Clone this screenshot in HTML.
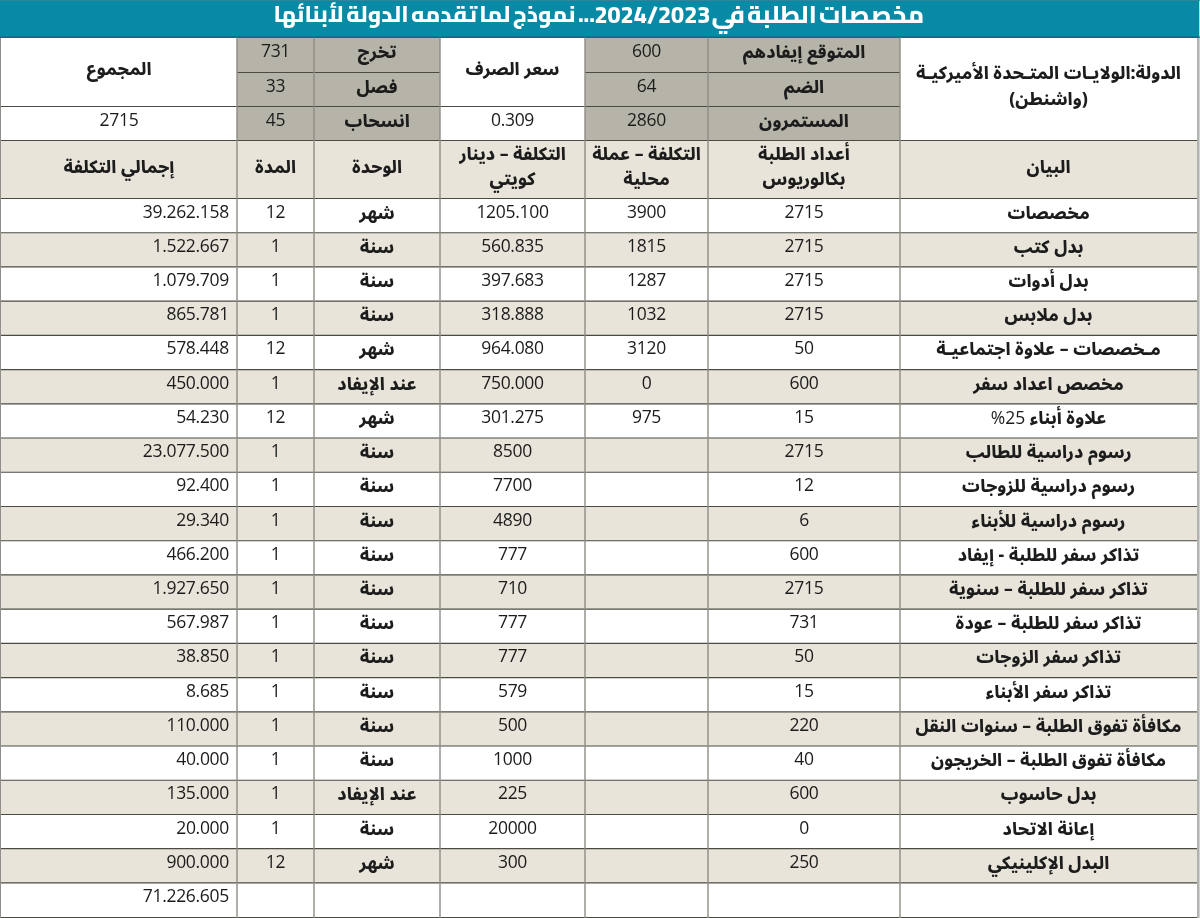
<!DOCTYPE html>
<html lang="ar"><head><meta charset="utf-8"><title>مخصصات الطلبة</title><style>
*{margin:0;padding:0;box-sizing:border-box}
html,body{width:1200px;height:918px;overflow:hidden;background:#fff}
body{position:relative}
#wrap{position:absolute;left:0;top:0;width:1200px;height:918px;will-change:transform}
.r,.g{position:absolute;left:0;top:0}
.r{left:auto;top:auto}
.c{position:absolute;display:flex;align-items:center;justify-content:center;text-align:center;color:#1c1c1c;white-space:nowrap}
.a{font-family:'Noto Sans Arabic', 'DejaVu Sans', sans-serif;font-weight:800;font-size:17.5px;direction:rtl;padding-bottom:5px}
.n{font-family:'Open Sans', 'Liberation Sans', sans-serif;font-weight:500;font-size:17.5px;letter-spacing:-0.3px;padding-bottom:10px}
.pn{font-family:'Open Sans', 'Liberation Sans', sans-serif;font-weight:500;font-size:17.5px}
.title{position:absolute;left:0;top:0;width:1200px;height:37px;color:#fff;font-family:'Cairo',sans-serif;font-weight:800;white-space:nowrap}
.title span{position:absolute;top:0;line-height:28px;direction:rtl}
.t1{font-size:24.5px;word-spacing:-3px}
.t2{font-size:23.5px;direction:ltr!important}
.t3{font-size:22.5px;word-spacing:-2.5px}
</style></head><body><div id="wrap">
<div class="r" style="left:0px;top:0px;width:1200px;height:38px;background:#068aa5"></div>
<div class="r" style="left:237px;top:38px;width:77px;height:103px;background:#b6b4a8"></div>
<div class="r" style="left:314px;top:38px;width:126px;height:103px;background:#b6b4a8"></div>
<div class="r" style="left:585px;top:38px;width:123px;height:103px;background:#b6b4a8"></div>
<div class="r" style="left:708px;top:38px;width:192px;height:103px;background:#b6b4a8"></div>
<div class="r" style="left:0px;top:141px;width:1197px;height:58px;background:#e8e4da"></div>
<div class="r" style="left:0px;top:233px;width:1197px;height:34px;background:#e8e4da"></div>
<div class="r" style="left:0px;top:301px;width:1197px;height:34px;background:#e8e4da"></div>
<div class="r" style="left:0px;top:370px;width:1197px;height:34px;background:#e8e4da"></div>
<div class="r" style="left:0px;top:438px;width:1197px;height:34px;background:#e8e4da"></div>
<div class="r" style="left:0px;top:506px;width:1197px;height:35px;background:#e8e4da"></div>
<div class="r" style="left:0px;top:575px;width:1197px;height:34px;background:#e8e4da"></div>
<div class="r" style="left:0px;top:643px;width:1197px;height:35px;background:#e8e4da"></div>
<div class="r" style="left:0px;top:712px;width:1197px;height:34px;background:#e8e4da"></div>
<div class="r" style="left:0px;top:780px;width:1197px;height:34px;background:#e8e4da"></div>
<div class="r" style="left:0px;top:849px;width:1197px;height:34px;background:#e8e4da"></div>
<div class="r" style="left:1197px;top:38px;width:2px;height:880px;background:#b2b2af"></div>
<div class="r" style="left:1199px;top:0px;width:1px;height:918px;background:#d2d4d4"></div>
<div class="r" style="left:0px;top:38px;width:1px;height:880px;background:#8e8e8a"></div>
<svg class="g" width="1200" height="918" viewBox="0 0 1200 918"><rect x="0" y="0" width="1200" height="0.8" fill="#3b8594"/><rect x="0" y="36.6" width="1200" height="1.1" fill="#0a6170"/><line x1="237" y1="72.50" x2="440" y2="72.50" stroke="#4a4c44" stroke-width="1.15"/><line x1="585" y1="72.50" x2="900" y2="72.50" stroke="#4a4c44" stroke-width="1.15"/><line x1="1" y1="106.50" x2="900" y2="106.50" stroke="#4a4c44" stroke-width="1.15"/><line x1="1" y1="140.50" x2="1197" y2="140.50" stroke="#4a4c44" stroke-width="1.15"/><line x1="1" y1="198.50" x2="1197" y2="198.50" stroke="#4a4c44" stroke-width="1.15"/><line x1="1" y1="232.72" x2="1197" y2="232.72" stroke="#4a4c44" stroke-width="1.15"/><line x1="1" y1="266.94" x2="1197" y2="266.94" stroke="#4a4c44" stroke-width="1.15"/><line x1="1" y1="301.16" x2="1197" y2="301.16" stroke="#4a4c44" stroke-width="1.15"/><line x1="1" y1="335.38" x2="1197" y2="335.38" stroke="#4a4c44" stroke-width="1.15"/><line x1="1" y1="369.60" x2="1197" y2="369.60" stroke="#4a4c44" stroke-width="1.15"/><line x1="1" y1="403.82" x2="1197" y2="403.82" stroke="#4a4c44" stroke-width="1.15"/><line x1="1" y1="438.04" x2="1197" y2="438.04" stroke="#4a4c44" stroke-width="1.15"/><line x1="1" y1="472.26" x2="1197" y2="472.26" stroke="#4a4c44" stroke-width="1.15"/><line x1="1" y1="506.48" x2="1197" y2="506.48" stroke="#4a4c44" stroke-width="1.15"/><line x1="1" y1="540.70" x2="1197" y2="540.70" stroke="#4a4c44" stroke-width="1.15"/><line x1="1" y1="574.92" x2="1197" y2="574.92" stroke="#4a4c44" stroke-width="1.15"/><line x1="1" y1="609.14" x2="1197" y2="609.14" stroke="#4a4c44" stroke-width="1.15"/><line x1="1" y1="643.36" x2="1197" y2="643.36" stroke="#4a4c44" stroke-width="1.15"/><line x1="1" y1="677.58" x2="1197" y2="677.58" stroke="#4a4c44" stroke-width="1.15"/><line x1="1" y1="711.80" x2="1197" y2="711.80" stroke="#4a4c44" stroke-width="1.15"/><line x1="1" y1="746.02" x2="1197" y2="746.02" stroke="#4a4c44" stroke-width="1.15"/><line x1="1" y1="780.24" x2="1197" y2="780.24" stroke="#4a4c44" stroke-width="1.15"/><line x1="1" y1="814.46" x2="1197" y2="814.46" stroke="#4a4c44" stroke-width="1.15"/><line x1="1" y1="848.68" x2="1197" y2="848.68" stroke="#4a4c44" stroke-width="1.15"/><line x1="1" y1="882.90" x2="1197" y2="882.90" stroke="#4a4c44" stroke-width="1.15"/><line x1="1" y1="917.50" x2="1197" y2="917.50" stroke="#4a4c44" stroke-width="1.15"/><line x1="237.00" y1="37.5" x2="237.00" y2="918" stroke="#8e8c84" stroke-width="1.4"/><line x1="314.00" y1="37.5" x2="314.00" y2="918" stroke="#8e8c84" stroke-width="1.4"/><line x1="440.00" y1="37.5" x2="440.00" y2="918" stroke="#8e8c84" stroke-width="1.4"/><line x1="585.00" y1="37.5" x2="585.00" y2="918" stroke="#8e8c84" stroke-width="1.4"/><line x1="708.00" y1="37.5" x2="708.00" y2="918" stroke="#8e8c84" stroke-width="1.4"/><line x1="900.00" y1="37.5" x2="900.00" y2="918" stroke="#8e8c84" stroke-width="1.4"/></svg>
<div class="title"><span class="t1" style="left:711.5px">مخصصات الطلبة في</span><span class="t2" style="left:594.5px">2024/2023</span><span class="t3" style="left:273.5px">... نموذج لما تقدمه الدولة لأبنائها</span></div>
<div class="c a" style="left:900px;top:37.50px;width:297px;height:103.00px;line-height:26px;"><span>الدولة:الولايـات المتـحدة الأميركيـة<br>(واشنطن)</span></div>
<div class="c a" style="left:708px;top:37.50px;width:192px;height:35.00px;"><span>المتوقع إيفادهم</span></div>
<div class="c n" style="left:585px;top:37.50px;width:123px;height:35.00px;"><span>600</span></div>
<div class="c a" style="left:708px;top:72.50px;width:192px;height:34.00px;"><span>الضم</span></div>
<div class="c n" style="left:585px;top:72.50px;width:123px;height:34.00px;"><span>64</span></div>
<div class="c a" style="left:708px;top:106.50px;width:192px;height:34.00px;"><span>المستمرون</span></div>
<div class="c n" style="left:585px;top:106.50px;width:123px;height:34.00px;"><span>2860</span></div>
<div class="c a" style="left:314px;top:37.50px;width:126px;height:35.00px;"><span>تخرج</span></div>
<div class="c n" style="left:237px;top:37.50px;width:77px;height:35.00px;"><span>731</span></div>
<div class="c a" style="left:314px;top:72.50px;width:126px;height:34.00px;"><span>فصل</span></div>
<div class="c n" style="left:237px;top:72.50px;width:77px;height:34.00px;"><span>33</span></div>
<div class="c a" style="left:314px;top:106.50px;width:126px;height:34.00px;"><span>انسحاب</span></div>
<div class="c n" style="left:237px;top:106.50px;width:77px;height:34.00px;"><span>45</span></div>
<div class="c a" style="left:440px;top:37.50px;width:145px;height:69.00px;"><span>سعر الصرف</span></div>
<div class="c n" style="left:440px;top:106.50px;width:145px;height:34.00px;"><span>0.309</span></div>
<div class="c a" style="left:1px;top:37.50px;width:236px;height:69.00px;"><span>المجموع</span></div>
<div class="c n" style="left:1px;top:106.50px;width:236px;height:34.00px;"><span>2715</span></div>
<div class="c a" style="left:900px;top:140.50px;width:297px;height:58.00px;line-height:25px;"><span>البيان</span></div>
<div class="c a" style="left:708px;top:140.50px;width:192px;height:58.00px;line-height:25px;"><span>أعداد الطلبة<br>بكالوريوس</span></div>
<div class="c a" style="left:585px;top:140.50px;width:123px;height:58.00px;line-height:25px;"><span>التكلفة – عملة<br>محلية</span></div>
<div class="c a" style="left:440px;top:140.50px;width:145px;height:58.00px;line-height:25px;"><span>التكلفة – دينار<br>كويتي</span></div>
<div class="c a" style="left:314px;top:140.50px;width:126px;height:58.00px;line-height:25px;"><span>الوحدة</span></div>
<div class="c a" style="left:237px;top:140.50px;width:77px;height:58.00px;line-height:25px;"><span>المدة</span></div>
<div class="c a" style="left:1px;top:140.50px;width:236px;height:58.00px;line-height:25px;"><span>إجمالي التكلفة</span></div>
<div class="c a" style="left:900px;top:198.50px;width:297px;height:34.22px;"><span>مخصصات</span></div>
<div class="c n" style="left:708px;top:198.50px;width:192px;height:34.22px;"><span>2715</span></div>
<div class="c n" style="left:585px;top:198.50px;width:123px;height:34.22px;"><span>3900</span></div>
<div class="c n" style="left:440px;top:198.50px;width:145px;height:34.22px;"><span>1205.100</span></div>
<div class="c a" style="left:314px;top:198.50px;width:126px;height:34.22px;"><span>شهر</span></div>
<div class="c n" style="left:237px;top:198.50px;width:77px;height:34.22px;"><span>12</span></div>
<div class="c n" style="left:1px;top:198.50px;width:236px;height:34.22px;justify-content:flex-end;padding-right:8px;"><span>39.262.158</span></div>
<div class="c a" style="left:900px;top:232.72px;width:297px;height:34.22px;"><span>بدل كتب</span></div>
<div class="c n" style="left:708px;top:232.72px;width:192px;height:34.22px;"><span>2715</span></div>
<div class="c n" style="left:585px;top:232.72px;width:123px;height:34.22px;"><span>1815</span></div>
<div class="c n" style="left:440px;top:232.72px;width:145px;height:34.22px;"><span>560.835</span></div>
<div class="c a" style="left:314px;top:232.72px;width:126px;height:34.22px;"><span>سنة</span></div>
<div class="c n" style="left:237px;top:232.72px;width:77px;height:34.22px;"><span>1</span></div>
<div class="c n" style="left:1px;top:232.72px;width:236px;height:34.22px;justify-content:flex-end;padding-right:8px;"><span>1.522.667</span></div>
<div class="c a" style="left:900px;top:266.94px;width:297px;height:34.22px;"><span>بدل أدوات</span></div>
<div class="c n" style="left:708px;top:266.94px;width:192px;height:34.22px;"><span>2715</span></div>
<div class="c n" style="left:585px;top:266.94px;width:123px;height:34.22px;"><span>1287</span></div>
<div class="c n" style="left:440px;top:266.94px;width:145px;height:34.22px;"><span>397.683</span></div>
<div class="c a" style="left:314px;top:266.94px;width:126px;height:34.22px;"><span>سنة</span></div>
<div class="c n" style="left:237px;top:266.94px;width:77px;height:34.22px;"><span>1</span></div>
<div class="c n" style="left:1px;top:266.94px;width:236px;height:34.22px;justify-content:flex-end;padding-right:8px;"><span>1.079.709</span></div>
<div class="c a" style="left:900px;top:301.16px;width:297px;height:34.22px;"><span>بدل ملابس</span></div>
<div class="c n" style="left:708px;top:301.16px;width:192px;height:34.22px;"><span>2715</span></div>
<div class="c n" style="left:585px;top:301.16px;width:123px;height:34.22px;"><span>1032</span></div>
<div class="c n" style="left:440px;top:301.16px;width:145px;height:34.22px;"><span>318.888</span></div>
<div class="c a" style="left:314px;top:301.16px;width:126px;height:34.22px;"><span>سنة</span></div>
<div class="c n" style="left:237px;top:301.16px;width:77px;height:34.22px;"><span>1</span></div>
<div class="c n" style="left:1px;top:301.16px;width:236px;height:34.22px;justify-content:flex-end;padding-right:8px;"><span>865.781</span></div>
<div class="c a" style="left:900px;top:335.38px;width:297px;height:34.22px;"><span>مـخصصات – علاوة اجتماعيـة</span></div>
<div class="c n" style="left:708px;top:335.38px;width:192px;height:34.22px;"><span>50</span></div>
<div class="c n" style="left:585px;top:335.38px;width:123px;height:34.22px;"><span>3120</span></div>
<div class="c n" style="left:440px;top:335.38px;width:145px;height:34.22px;"><span>964.080</span></div>
<div class="c a" style="left:314px;top:335.38px;width:126px;height:34.22px;"><span>شهر</span></div>
<div class="c n" style="left:237px;top:335.38px;width:77px;height:34.22px;"><span>12</span></div>
<div class="c n" style="left:1px;top:335.38px;width:236px;height:34.22px;justify-content:flex-end;padding-right:8px;"><span>578.448</span></div>
<div class="c a" style="left:900px;top:369.60px;width:297px;height:34.22px;"><span>مخصص اعداد سفر</span></div>
<div class="c n" style="left:708px;top:369.60px;width:192px;height:34.22px;"><span>600</span></div>
<div class="c n" style="left:585px;top:369.60px;width:123px;height:34.22px;"><span>0</span></div>
<div class="c n" style="left:440px;top:369.60px;width:145px;height:34.22px;"><span>750.000</span></div>
<div class="c a" style="left:314px;top:369.60px;width:126px;height:34.22px;"><span>عند الإيفاد</span></div>
<div class="c n" style="left:237px;top:369.60px;width:77px;height:34.22px;"><span>1</span></div>
<div class="c n" style="left:1px;top:369.60px;width:236px;height:34.22px;justify-content:flex-end;padding-right:8px;"><span>450.000</span></div>
<div class="c a" style="left:900px;top:403.82px;width:297px;height:34.22px;"><span>علاوة أبناء <span class="pn">25%</span></span></div>
<div class="c n" style="left:708px;top:403.82px;width:192px;height:34.22px;"><span>15</span></div>
<div class="c n" style="left:585px;top:403.82px;width:123px;height:34.22px;"><span>975</span></div>
<div class="c n" style="left:440px;top:403.82px;width:145px;height:34.22px;"><span>301.275</span></div>
<div class="c a" style="left:314px;top:403.82px;width:126px;height:34.22px;"><span>شهر</span></div>
<div class="c n" style="left:237px;top:403.82px;width:77px;height:34.22px;"><span>12</span></div>
<div class="c n" style="left:1px;top:403.82px;width:236px;height:34.22px;justify-content:flex-end;padding-right:8px;"><span>54.230</span></div>
<div class="c a" style="left:900px;top:438.04px;width:297px;height:34.22px;"><span>رسوم دراسية للطالب</span></div>
<div class="c n" style="left:708px;top:438.04px;width:192px;height:34.22px;"><span>2715</span></div>
<div class="c n" style="left:440px;top:438.04px;width:145px;height:34.22px;"><span>8500</span></div>
<div class="c a" style="left:314px;top:438.04px;width:126px;height:34.22px;"><span>سنة</span></div>
<div class="c n" style="left:237px;top:438.04px;width:77px;height:34.22px;"><span>1</span></div>
<div class="c n" style="left:1px;top:438.04px;width:236px;height:34.22px;justify-content:flex-end;padding-right:8px;"><span>23.077.500</span></div>
<div class="c a" style="left:900px;top:472.26px;width:297px;height:34.22px;"><span>رسوم دراسية للزوجات</span></div>
<div class="c n" style="left:708px;top:472.26px;width:192px;height:34.22px;"><span>12</span></div>
<div class="c n" style="left:440px;top:472.26px;width:145px;height:34.22px;"><span>7700</span></div>
<div class="c a" style="left:314px;top:472.26px;width:126px;height:34.22px;"><span>سنة</span></div>
<div class="c n" style="left:237px;top:472.26px;width:77px;height:34.22px;"><span>1</span></div>
<div class="c n" style="left:1px;top:472.26px;width:236px;height:34.22px;justify-content:flex-end;padding-right:8px;"><span>92.400</span></div>
<div class="c a" style="left:900px;top:506.48px;width:297px;height:34.22px;"><span>رسوم دراسية للأبناء</span></div>
<div class="c n" style="left:708px;top:506.48px;width:192px;height:34.22px;"><span>6</span></div>
<div class="c n" style="left:440px;top:506.48px;width:145px;height:34.22px;"><span>4890</span></div>
<div class="c a" style="left:314px;top:506.48px;width:126px;height:34.22px;"><span>سنة</span></div>
<div class="c n" style="left:237px;top:506.48px;width:77px;height:34.22px;"><span>1</span></div>
<div class="c n" style="left:1px;top:506.48px;width:236px;height:34.22px;justify-content:flex-end;padding-right:8px;"><span>29.340</span></div>
<div class="c a" style="left:900px;top:540.70px;width:297px;height:34.22px;"><span>تذاكر سفر للطلبة - إيفاد</span></div>
<div class="c n" style="left:708px;top:540.70px;width:192px;height:34.22px;"><span>600</span></div>
<div class="c n" style="left:440px;top:540.70px;width:145px;height:34.22px;"><span>777</span></div>
<div class="c a" style="left:314px;top:540.70px;width:126px;height:34.22px;"><span>سنة</span></div>
<div class="c n" style="left:237px;top:540.70px;width:77px;height:34.22px;"><span>1</span></div>
<div class="c n" style="left:1px;top:540.70px;width:236px;height:34.22px;justify-content:flex-end;padding-right:8px;"><span>466.200</span></div>
<div class="c a" style="left:900px;top:574.92px;width:297px;height:34.22px;"><span>تذاكر سفر للطلبة – سنوية</span></div>
<div class="c n" style="left:708px;top:574.92px;width:192px;height:34.22px;"><span>2715</span></div>
<div class="c n" style="left:440px;top:574.92px;width:145px;height:34.22px;"><span>710</span></div>
<div class="c a" style="left:314px;top:574.92px;width:126px;height:34.22px;"><span>سنة</span></div>
<div class="c n" style="left:237px;top:574.92px;width:77px;height:34.22px;"><span>1</span></div>
<div class="c n" style="left:1px;top:574.92px;width:236px;height:34.22px;justify-content:flex-end;padding-right:8px;"><span>1.927.650</span></div>
<div class="c a" style="left:900px;top:609.14px;width:297px;height:34.22px;"><span>تذاكر سفر للطلبة – عودة</span></div>
<div class="c n" style="left:708px;top:609.14px;width:192px;height:34.22px;"><span>731</span></div>
<div class="c n" style="left:440px;top:609.14px;width:145px;height:34.22px;"><span>777</span></div>
<div class="c a" style="left:314px;top:609.14px;width:126px;height:34.22px;"><span>سنة</span></div>
<div class="c n" style="left:237px;top:609.14px;width:77px;height:34.22px;"><span>1</span></div>
<div class="c n" style="left:1px;top:609.14px;width:236px;height:34.22px;justify-content:flex-end;padding-right:8px;"><span>567.987</span></div>
<div class="c a" style="left:900px;top:643.36px;width:297px;height:34.22px;"><span>تذاكر سفر الزوجات</span></div>
<div class="c n" style="left:708px;top:643.36px;width:192px;height:34.22px;"><span>50</span></div>
<div class="c n" style="left:440px;top:643.36px;width:145px;height:34.22px;"><span>777</span></div>
<div class="c a" style="left:314px;top:643.36px;width:126px;height:34.22px;"><span>سنة</span></div>
<div class="c n" style="left:237px;top:643.36px;width:77px;height:34.22px;"><span>1</span></div>
<div class="c n" style="left:1px;top:643.36px;width:236px;height:34.22px;justify-content:flex-end;padding-right:8px;"><span>38.850</span></div>
<div class="c a" style="left:900px;top:677.58px;width:297px;height:34.22px;"><span>تذاكر سفر الأبناء</span></div>
<div class="c n" style="left:708px;top:677.58px;width:192px;height:34.22px;"><span>15</span></div>
<div class="c n" style="left:440px;top:677.58px;width:145px;height:34.22px;"><span>579</span></div>
<div class="c a" style="left:314px;top:677.58px;width:126px;height:34.22px;"><span>سنة</span></div>
<div class="c n" style="left:237px;top:677.58px;width:77px;height:34.22px;"><span>1</span></div>
<div class="c n" style="left:1px;top:677.58px;width:236px;height:34.22px;justify-content:flex-end;padding-right:8px;"><span>8.685</span></div>
<div class="c a" style="left:900px;top:711.80px;width:297px;height:34.22px;"><span>مكافأة تفوق الطلبة – سنوات النقل</span></div>
<div class="c n" style="left:708px;top:711.80px;width:192px;height:34.22px;"><span>220</span></div>
<div class="c n" style="left:440px;top:711.80px;width:145px;height:34.22px;"><span>500</span></div>
<div class="c a" style="left:314px;top:711.80px;width:126px;height:34.22px;"><span>سنة</span></div>
<div class="c n" style="left:237px;top:711.80px;width:77px;height:34.22px;"><span>1</span></div>
<div class="c n" style="left:1px;top:711.80px;width:236px;height:34.22px;justify-content:flex-end;padding-right:8px;"><span>110.000</span></div>
<div class="c a" style="left:900px;top:746.02px;width:297px;height:34.22px;"><span>مكافأة تفوق الطلبة – الخريجون</span></div>
<div class="c n" style="left:708px;top:746.02px;width:192px;height:34.22px;"><span>40</span></div>
<div class="c n" style="left:440px;top:746.02px;width:145px;height:34.22px;"><span>1000</span></div>
<div class="c a" style="left:314px;top:746.02px;width:126px;height:34.22px;"><span>سنة</span></div>
<div class="c n" style="left:237px;top:746.02px;width:77px;height:34.22px;"><span>1</span></div>
<div class="c n" style="left:1px;top:746.02px;width:236px;height:34.22px;justify-content:flex-end;padding-right:8px;"><span>40.000</span></div>
<div class="c a" style="left:900px;top:780.24px;width:297px;height:34.22px;"><span>بدل حاسوب</span></div>
<div class="c n" style="left:708px;top:780.24px;width:192px;height:34.22px;"><span>600</span></div>
<div class="c n" style="left:440px;top:780.24px;width:145px;height:34.22px;"><span>225</span></div>
<div class="c a" style="left:314px;top:780.24px;width:126px;height:34.22px;"><span>عند الإيفاد</span></div>
<div class="c n" style="left:237px;top:780.24px;width:77px;height:34.22px;"><span>1</span></div>
<div class="c n" style="left:1px;top:780.24px;width:236px;height:34.22px;justify-content:flex-end;padding-right:8px;"><span>135.000</span></div>
<div class="c a" style="left:900px;top:814.46px;width:297px;height:34.22px;"><span>إعانة الاتحاد</span></div>
<div class="c n" style="left:708px;top:814.46px;width:192px;height:34.22px;"><span>0</span></div>
<div class="c n" style="left:440px;top:814.46px;width:145px;height:34.22px;"><span>20000</span></div>
<div class="c a" style="left:314px;top:814.46px;width:126px;height:34.22px;"><span>سنة</span></div>
<div class="c n" style="left:237px;top:814.46px;width:77px;height:34.22px;"><span>1</span></div>
<div class="c n" style="left:1px;top:814.46px;width:236px;height:34.22px;justify-content:flex-end;padding-right:8px;"><span>20.000</span></div>
<div class="c a" style="left:900px;top:848.68px;width:297px;height:34.22px;"><span>البدل الإكلينيكي</span></div>
<div class="c n" style="left:708px;top:848.68px;width:192px;height:34.22px;"><span>250</span></div>
<div class="c n" style="left:440px;top:848.68px;width:145px;height:34.22px;"><span>300</span></div>
<div class="c a" style="left:314px;top:848.68px;width:126px;height:34.22px;"><span>شهر</span></div>
<div class="c n" style="left:237px;top:848.68px;width:77px;height:34.22px;"><span>12</span></div>
<div class="c n" style="left:1px;top:848.68px;width:236px;height:34.22px;justify-content:flex-end;padding-right:8px;"><span>900.000</span></div>
<div class="c n" style="left:1px;top:882.90px;width:236px;height:34.22px;justify-content:flex-end;padding-right:8px;"><span>71.226.605</span></div>
</div></body></html>
